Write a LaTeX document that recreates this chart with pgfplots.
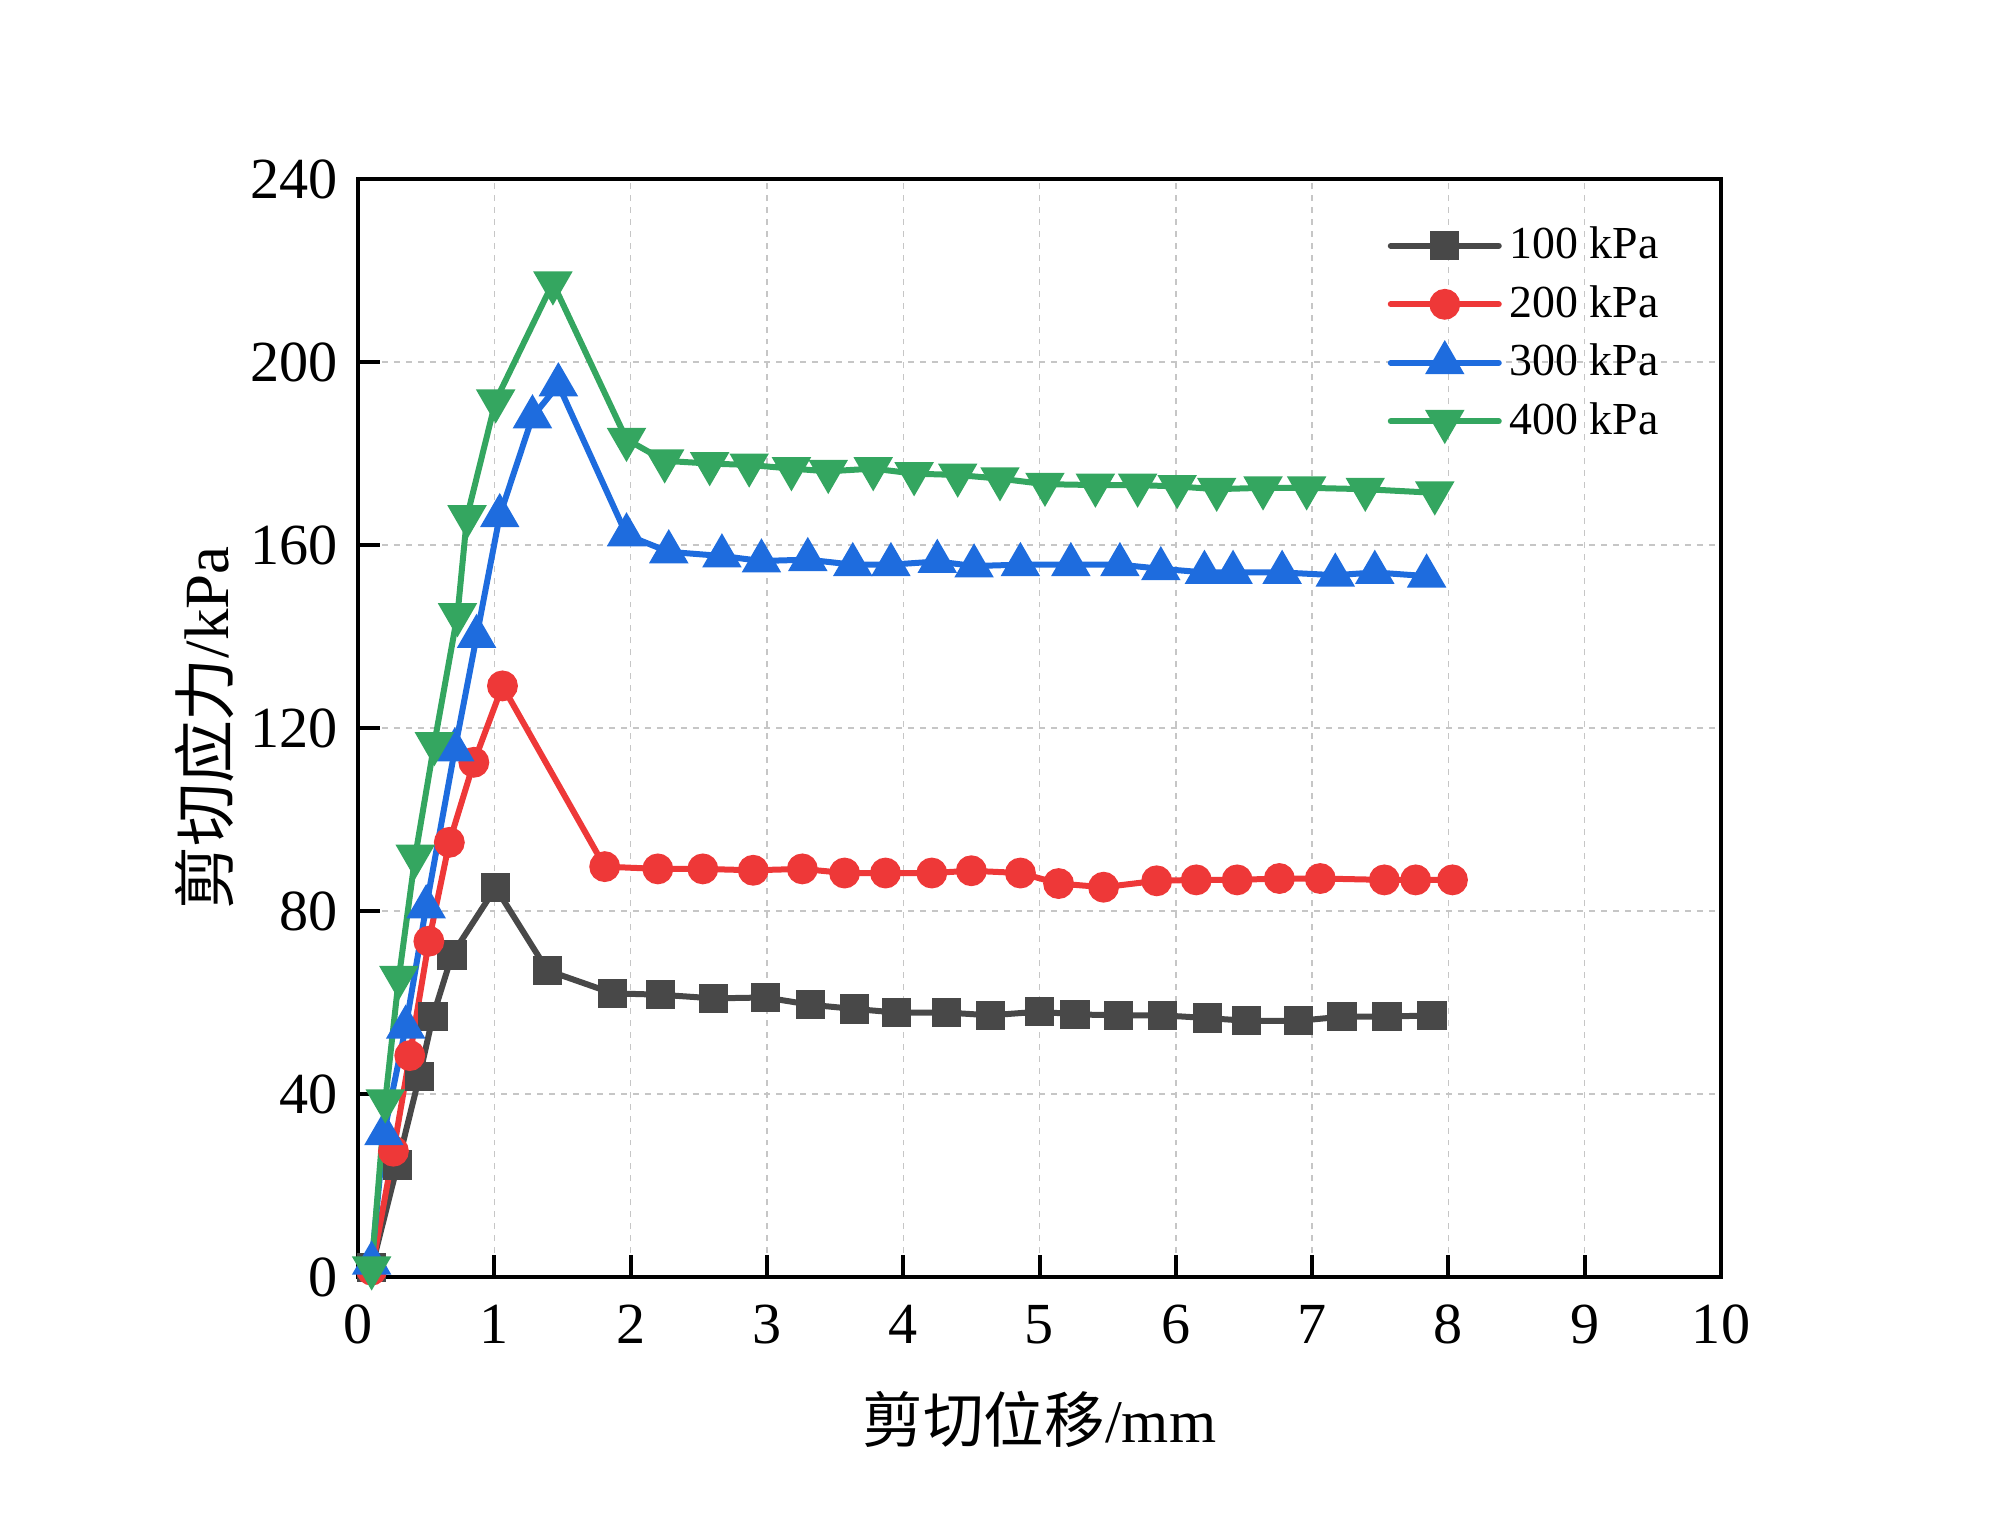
\documentclass[border=0pt]{standalone}
\usepackage{fontspec}
\setmainfont{Liberation Serif}
\newfontfamily\cjk{Noto Sans CJK SC}
\usepackage{pgfplots}
\pgfplotsset{compat=1.18}
\definecolor{cgray}{RGB}{72,72,72}
\definecolor{cred}{RGB}{238,56,56}
\definecolor{cblue}{RGB}{30,108,222}
\definecolor{cgreen}{RGB}{52,166,96}
\begin{document}
\begin{tikzpicture}
\begin{axis}[
  name=ax,
  scale only axis,
  width=340.75bp, height=274.5bp,
  xmin=0, xmax=10, ymin=0, ymax=240,
  xtick={0,1,...,10}, ytick={0,40,...,240},
  tick pos=left,
  tick align=inside,
  major tick length=5.5bp,
  every tick/.style={black, line width=1bp},
  axis line style={line width=1bp},
  grid=major,
  major grid style={gray!45, line width=0.35pt, dash pattern=on 1.5pt off 1.5pt},
  /pgf/number format/assume math mode=true,
  tick label style={font=\fontsize{14.6}{16}\selectfont},
  xticklabel style={yshift=-3.5bp},
  yticklabel style={xshift=-1.5bp},
  xlabel={{\cjk 剪切位移}/mm},
  ylabel={{\cjk 剪切应力}/kPa},
  xlabel style={font=\fontsize{15.2}{18}\selectfont, at={(axis description cs:0.5,-0.130)}, anchor=center},
  ylabel style={font=\fontsize{15.8}{18}\selectfont, at={(axis description cs:-0.1123,0.5)}, anchor=center, rotate=0},
  legend style={draw=none, fill=none, at={(0.752,0.968)}, anchor=north west,
    font=\fontsize{11.5}{13}\selectfont, row sep=1.2bp, inner sep=1bp},
  legend cell align=left,
  legend image code/.code={\draw[mark repeat=2,mark phase=2,line cap=round,#1] plot coordinates {(0bp,0bp) (13.5bp,0bp) (27bp,0bp)};},
  every axis plot/.append style={line width=1.5bp},
  clip=false,
]
\addplot[color=cgray, mark=square*, mark size=2.9bp, mark options={fill=cgray}] coordinates {
(0.10,2) (0.29,24.5) (0.45,43.8) (0.55,57) (0.69,70.4) (1.01,85.1) (1.39,67)
(1.87,62) (2.22,61.7) (2.61,60.9) (2.99,61.1) (3.32,59.5) (3.64,58.6) (3.95,57.8)
(4.32,57.8) (4.64,57.2) (5.00,58) (5.26,57.4) (5.58,57.2) (5.90,57.2) (6.23,56.6)
(6.52,56) (6.90,56) (7.22,56.9) (7.55,56.9) (7.88,57.2)
};
\addlegendentry{100 kPa}
\addplot[color=cred, mark=*, mark size=3.1bp, mark options={fill=cred}] coordinates {
(0.10,1.5) (0.26,27.5) (0.38,48.4) (0.52,73.4) (0.67,95) (0.85,112.5) (1.06,129.2)
(1.81,89.7) (2.20,89.2) (2.53,89.2) (2.90,88.9) (3.26,89.2) (3.57,88.3) (3.87,88.3)
(4.21,88.3) (4.50,88.8) (4.86,88.3) (5.14,86) (5.47,85.2) (5.86,86.6) (6.15,86.8)
(6.45,86.8) (6.76,87.1) (7.06,87.1) (7.53,86.8) (7.76,86.8) (8.03,86.8)
};
\addlegendentry{200 kPa}
\addplot[color=cblue, mark=triangle*, mark size=4.2bp, mark options={fill=cblue}] coordinates {
(0.10,3) (0.19,31.3) (0.35,54.6) (0.50,80.9) (0.71,115.2) (0.87,140) (1.04,166.4)
(1.28,188) (1.47,195) (1.97,162.2) (2.28,158.5) (2.67,157.6) (2.96,156.5) (3.30,156.8)
(3.63,155.7) (3.91,155.7) (4.25,156.4) (4.52,155.4) (4.86,155.7) (5.23,155.7) (5.59,155.7)
(5.89,154.8) (6.21,154) (6.42,154) (6.78,154) (7.17,153.4) (7.46,154) (7.84,153.2)
};
\addlegendentry{300 kPa}
\addplot[color=cgreen, mark=triangle*, mark size=4.2bp, mark options={fill=cgreen, rotate=180}] coordinates {
(0.10,2) (0.20,38.5) (0.30,65.5) (0.42,92) (0.56,116.6) (0.73,144.8) (0.80,166.2)
(1.01,191.5) (1.43,217.3) (1.97,183.1) (2.25,178.4) (2.58,177.8) (2.87,177.5) (3.18,176.7)
(3.45,176.1) (3.78,176.7) (4.08,175.6) (4.40,175.3) (4.71,174.5) (5.04,173.3) (5.41,173.1)
(5.72,173.1) (6.01,172.8) (6.30,172.2) (6.64,172.5) (6.96,172.5) (7.39,172.2) (7.90,171.4)
};
\addlegendentry{400 kPa}
\end{axis}
\path (ax.south west) ++(-89.5bp,-63.5bp) coordinate (bl);
\path (ax.north east) ++(69.5bp,44.75bp) coordinate (tr);
\useasboundingbox (bl) rectangle (tr);
\end{tikzpicture}
\end{document}
